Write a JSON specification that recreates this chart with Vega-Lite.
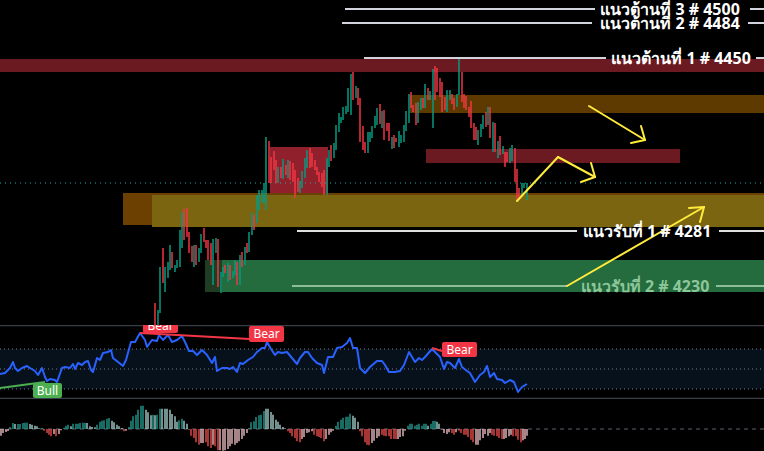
{
"$schema":"https://vega.github.io/schema/vega-lite/v6.json",
"background":"#000000",
"padding":0,
"spacing":0,
"config":{"view":{"stroke":null},"axis":{"disable":true},"legend":{"disable":true},"concat":{"spacing":0},"mark":{"clip":true}},
"vconcat":[
{
"width":764,"height":325,
"resolve":{"scale":{"color":"independent"}},
"encoding":{"x":{"field":"x","type":"quantitative","scale":{"domain":[0,764]},"axis":null},"y":{"field":"y","type":"quantitative","scale":{"domain":[4183,4508]},"axis":null}},
"layer":[
{"data":{"values":[
{"zone":"res1","x":0,"x2":764,"y":4449,"y2":4436},
{"zone":"orangeL","x":123,"x2":764,"y":4315,"y2":4283},
{"zone":"olive","x":152,"x2":764,"y":4313,"y2":4281},
{"zone":"greenDark","x":205,"x2":764,"y":4248,"y2":4216},
{"zone":"green","x":222,"x2":764,"y":4248,"y2":4216},
{"zone":"redBox","x":270,"x2":328,"y":4361,"y2":4315},
{"zone":"brownR","x":410,"x2":764,"y":4413,"y2":4395},
{"zone":"redMid","x":426,"x2":680,"y":4359,"y2":4345}]},
"mark":{"type":"rect","clip":true},
"encoding":{"x2":{"field":"x2"},"y2":{"field":"y2"},"color":{"field":"zone","type":"nominal","legend":null,"scale":{"domain":["res1","orangeL","olive","greenDark","green","redBox","brownR","redMid"],"range":["#6b1a22","#6b4000","#7c6511","#1f3d22","#246b3d","#91202d","#5e3a00","#6b1a22"]}}}},
{"data":{"values":[{"x":0,"x2":764,"y":4325}]},
"mark":{"type":"rule","color":"#26a69a","strokeDash":[1,4],"strokeWidth":1,"clip":true},
"encoding":{"x2":{"field":"x2"}}},
{"data":{"values":[
{"x":155,"y":4205,"y2":4183,"d":"dn"},{"x":158,"y":4198,"y2":4183,"d":"up"},{"x":160,"y":4241,"y2":4195,"d":"up"},{"x":163,"y":4260,"y2":4225,"d":"dn"},{"x":165,"y":4241,"y2":4216,"d":"up"},{"x":168,"y":4246,"y2":4230,"d":"up"},{"x":170,"y":4263,"y2":4238,"d":"up"},{"x":172,"y":4256,"y2":4240,"d":"dn"},{"x":175,"y":4243,"y2":4236,"d":"up"},{"x":177,"y":4248,"y2":4240,"d":"up"},{"x":180,"y":4278,"y2":4241,"d":"up"},{"x":182,"y":4296,"y2":4260,"d":"up"},{"x":184,"y":4299,"y2":4268,"d":"dn"},{"x":187,"y":4300,"y2":4271,"d":"dn"},{"x":189,"y":4276,"y2":4255,"d":"dn"},{"x":192,"y":4262,"y2":4246,"d":"dn"},{"x":194,"y":4263,"y2":4241,"d":"up"},{"x":196,"y":4263,"y2":4243,"d":"dn"},{"x":199,"y":4260,"y2":4246,"d":"up"},{"x":201,"y":4274,"y2":4255,"d":"up"},{"x":204,"y":4280,"y2":4266,"d":"dn"},{"x":206,"y":4268,"y2":4260,"d":"dn"},{"x":208,"y":4268,"y2":4248,"d":"dn"},{"x":211,"y":4265,"y2":4243,"d":"dn"},{"x":213,"y":4269,"y2":4223,"d":"up"},{"x":216,"y":4270,"y2":4255,"d":"up"},{"x":218,"y":4269,"y2":4221,"d":"dn"},{"x":221,"y":4236,"y2":4215,"d":"up"},{"x":223,"y":4241,"y2":4231,"d":"up"},{"x":225,"y":4243,"y2":4235,"d":"dn"},{"x":228,"y":4245,"y2":4226,"d":"up"},{"x":230,"y":4243,"y2":4228,"d":"dn"},{"x":233,"y":4237,"y2":4230,"d":"up"},{"x":235,"y":4248,"y2":4233,"d":"up"},{"x":237,"y":4246,"y2":4223,"d":"dn"},{"x":240,"y":4253,"y2":4223,"d":"up"},{"x":242,"y":4256,"y2":4241,"d":"dn"},{"x":245,"y":4261,"y2":4243,"d":"up"},{"x":247,"y":4265,"y2":4255,"d":"dn"},{"x":249,"y":4276,"y2":4256,"d":"up"},{"x":252,"y":4295,"y2":4273,"d":"up"},{"x":254,"y":4293,"y2":4278,"d":"dn"},{"x":257,"y":4313,"y2":4285,"d":"up"},{"x":259,"y":4318,"y2":4298,"d":"up"},{"x":262,"y":4318,"y2":4305,"d":"up"},{"x":264,"y":4325,"y2":4305,"d":"up"},{"x":266,"y":4371,"y2":4298,"d":"up"},{"x":269,"y":4367,"y2":4325,"d":"dn"},{"x":271,"y":4351,"y2":4325,"d":"dn"},{"x":274,"y":4357,"y2":4338,"d":"dn"},{"x":276,"y":4348,"y2":4325,"d":"dn"},{"x":278,"y":4341,"y2":4325,"d":"up"},{"x":281,"y":4341,"y2":4330,"d":"dn"},{"x":283,"y":4349,"y2":4329,"d":"up"},{"x":286,"y":4343,"y2":4333,"d":"dn"},{"x":288,"y":4348,"y2":4330,"d":"up"},{"x":290,"y":4347,"y2":4328,"d":"dn"},{"x":293,"y":4345,"y2":4326,"d":"dn"},{"x":295,"y":4338,"y2":4310,"d":"dn"},{"x":298,"y":4330,"y2":4316,"d":"dn"},{"x":300,"y":4327,"y2":4315,"d":"up"},{"x":302,"y":4337,"y2":4320,"d":"up"},{"x":305,"y":4350,"y2":4330,"d":"up"},{"x":307,"y":4358,"y2":4340,"d":"up"},{"x":310,"y":4360,"y2":4340,"d":"dn"},{"x":312,"y":4355,"y2":4341,"d":"dn"},{"x":315,"y":4348,"y2":4338,"d":"dn"},{"x":317,"y":4341,"y2":4333,"d":"dn"},{"x":319,"y":4336,"y2":4326,"d":"dn"},{"x":322,"y":4335,"y2":4321,"d":"dn"},{"x":324,"y":4338,"y2":4313,"d":"dn"},{"x":327,"y":4350,"y2":4313,"d":"up"},{"x":329,"y":4358,"y2":4341,"d":"up"},{"x":331,"y":4363,"y2":4347,"d":"dn"},{"x":334,"y":4365,"y2":4350,"d":"up"},{"x":336,"y":4383,"y2":4358,"d":"up"},{"x":339,"y":4395,"y2":4376,"d":"up"},{"x":341,"y":4391,"y2":4385,"d":"up"},{"x":343,"y":4401,"y2":4388,"d":"up"},{"x":346,"y":4402,"y2":4394,"d":"up"},{"x":348,"y":4420,"y2":4396,"d":"up"},{"x":351,"y":4434,"y2":4393,"d":"up"},{"x":353,"y":4436,"y2":4408,"d":"dn"},{"x":356,"y":4422,"y2":4410,"d":"up"},{"x":358,"y":4420,"y2":4403,"d":"dn"},{"x":360,"y":4410,"y2":4366,"d":"dn"},{"x":363,"y":4382,"y2":4358,"d":"dn"},{"x":365,"y":4366,"y2":4355,"d":"dn"},{"x":368,"y":4376,"y2":4355,"d":"up"},{"x":370,"y":4376,"y2":4366,"d":"up"},{"x":372,"y":4382,"y2":4370,"d":"up"},{"x":375,"y":4392,"y2":4380,"d":"up"},{"x":377,"y":4400,"y2":4383,"d":"up"},{"x":380,"y":4404,"y2":4384,"d":"dn"},{"x":382,"y":4397,"y2":4380,"d":"up"},{"x":384,"y":4398,"y2":4368,"d":"dn"},{"x":387,"y":4385,"y2":4377,"d":"dn"},{"x":389,"y":4385,"y2":4367,"d":"dn"},{"x":392,"y":4371,"y2":4359,"d":"up"},{"x":394,"y":4373,"y2":4360,"d":"dn"},{"x":396,"y":4370,"y2":4366,"d":"dn"},{"x":399,"y":4377,"y2":4361,"d":"up"},{"x":401,"y":4373,"y2":4365,"d":"up"},{"x":404,"y":4383,"y2":4366,"d":"up"},{"x":406,"y":4397,"y2":4377,"d":"up"},{"x":409,"y":4414,"y2":4385,"d":"up"},{"x":411,"y":4416,"y2":4400,"d":"dn"},{"x":413,"y":4403,"y2":4396,"d":"dn"},{"x":416,"y":4405,"y2":4383,"d":"dn"},{"x":418,"y":4406,"y2":4385,"d":"up"},{"x":421,"y":4410,"y2":4398,"d":"up"},{"x":423,"y":4410,"y2":4400,"d":"dn"},{"x":425,"y":4424,"y2":4400,"d":"up"},{"x":428,"y":4420,"y2":4408,"d":"dn"},{"x":430,"y":4417,"y2":4408,"d":"up"},{"x":433,"y":4439,"y2":4380,"d":"up"},{"x":435,"y":4442,"y2":4408,"d":"dn"},{"x":437,"y":4440,"y2":4416,"d":"dn"},{"x":440,"y":4430,"y2":4411,"d":"dn"},{"x":442,"y":4426,"y2":4396,"d":"dn"},{"x":445,"y":4411,"y2":4398,"d":"dn"},{"x":447,"y":4418,"y2":4396,"d":"up"},{"x":450,"y":4418,"y2":4408,"d":"up"},{"x":452,"y":4414,"y2":4404,"d":"dn"},{"x":454,"y":4410,"y2":4398,"d":"dn"},{"x":457,"y":4414,"y2":4401,"d":"up"},{"x":459,"y":4450,"y2":4413,"d":"up"},{"x":462,"y":4436,"y2":4406,"d":"dn"},{"x":464,"y":4414,"y2":4400,"d":"dn"},{"x":466,"y":4412,"y2":4398,"d":"dn"},{"x":469,"y":4401,"y2":4391,"d":"dn"},{"x":471,"y":4407,"y2":4380,"d":"dn"},{"x":474,"y":4385,"y2":4368,"d":"dn"},{"x":476,"y":4381,"y2":4368,"d":"dn"},{"x":478,"y":4378,"y2":4363,"d":"up"},{"x":481,"y":4384,"y2":4371,"d":"up"},{"x":483,"y":4393,"y2":4379,"d":"up"},{"x":486,"y":4396,"y2":4381,"d":"dn"},{"x":488,"y":4401,"y2":4383,"d":"up"},{"x":490,"y":4401,"y2":4370,"d":"dn"},{"x":493,"y":4386,"y2":4356,"d":"up"},{"x":495,"y":4385,"y2":4356,"d":"dn"},{"x":498,"y":4367,"y2":4350,"d":"up"},{"x":500,"y":4372,"y2":4353,"d":"dn"},{"x":503,"y":4362,"y2":4354,"d":"up"},{"x":505,"y":4356,"y2":4341,"d":"dn"},{"x":507,"y":4356,"y2":4346,"d":"dn"},{"x":510,"y":4360,"y2":4345,"d":"up"},{"x":512,"y":4363,"y2":4347,"d":"up"},{"x":515,"y":4360,"y2":4326,"d":"dn"},{"x":517,"y":4339,"y2":4308,"d":"dn"},{"x":519,"y":4320,"y2":4310,"d":"dn"},{"x":522,"y":4325,"y2":4313,"d":"up"},{"x":524,"y":4325,"y2":4320,"d":"up"},{"x":527,"y":4325,"y2":4308,"d":"up"}]},
"mark":{"type":"rule","strokeWidth":1.5,"clip":true},
"encoding":{"y2":{"field":"y2"},"color":{"field":"d","type":"nominal","legend":null,"scale":{"domain":["up","dn"],"range":["#089981","#f23645"]}}}},
{"data":{"values":[
{"kind":"res","x":345,"x2":595,"y":4499},{"kind":"res","x":750,"x2":764,"y":4499},
{"kind":"res","x":342,"x2":592,"y":4485},{"kind":"res","x":748,"x2":764,"y":4485},
{"kind":"res","x":364,"x2":606,"y":4450},{"kind":"res","x":756,"x2":764,"y":4450},
{"kind":"sup1","x":297,"x2":577,"y":4277},{"kind":"sup1","x":719,"x2":764,"y":4277},
{"kind":"sup2","x":292,"x2":567,"y":4222},{"kind":"sup2","x":716,"x2":764,"y":4222}]},
"mark":{"type":"rule","strokeWidth":2,"clip":true},
"encoding":{"x2":{"field":"x2"},"color":{"field":"kind","type":"nominal","legend":null,"scale":{"domain":["res","sup1","sup2"],"range":["#d1d4dc","#e0e0e0","#8cbf98"]}}}},
{"data":{"values":[
{"x":589,"y":4402,"x2":645,"y2":4368},{"x":641,"y":4382,"x2":645,"y2":4368},{"x":631,"y":4365,"x2":645,"y2":4368},
{"x":517,"y":4307,"x2":558,"y2":4351},{"x":558,"y":4351,"x2":595,"y2":4331},{"x":591,"y":4345,"x2":595,"y2":4331},{"x":581,"y":4326,"x2":595,"y2":4331},
{"x":567,"y":4222,"x2":704,"y2":4301},{"x":689,"y":4300,"x2":704,"y2":4301},{"x":700,"y":4286,"x2":704,"y2":4301}]},
"mark":{"type":"rule","color":"#ffeb3b","strokeWidth":2,"strokeCap":"round","clip":true},
"encoding":{"x2":{"field":"x2"},"y2":{"field":"y2"}}},
{"data":{"values":[
{"label":"แนวต้านที่ 3 # 4500","x":670,"y":4498,"kind":"res"},
{"label":"แนวต้านที่ 2 # 4484","x":670,"y":4484,"kind":"res"},
{"label":"แนวต้านที่ 1 # 4450","x":681,"y":4449,"kind":"res"},
{"label":"แนวรับที่ 1 # 4281","x":647,"y":4276,"kind":"sup1"},
{"label":"แนวรับที่ 2 # 4230","x":645,"y":4221,"kind":"sup2"}]},
"mark":{"type":"text","font":"Noto Sans","fontSize":16,"fontWeight":"bold","align":"center","baseline":"middle","clip":true},
"encoding":{"text":{"field":"label"},"color":{"field":"kind","type":"nominal","legend":null,"scale":{"domain":["res","sup1","sup2"],"range":["#ffffff","#ffffff","#8cc79a"]}}}}
]
},
{
"width":764,"height":74,
"resolve":{"scale":{"color":"independent"}},
"encoding":{"x":{"field":"x","type":"quantitative","scale":{"domain":[0,764]},"axis":null},"y":{"field":"y","type":"quantitative","scale":{"domain":[20,94]},"axis":null}},
"layer":[
{"data":{"values":[{"x":0,"x2":764,"y":70,"y2":30}]},
"mark":{"type":"rect","color":"#06111c","clip":true},
"encoding":{"x2":{"field":"x2"},"y2":{"field":"y2"}}},
{"data":{"values":[{"x":0,"x2":764,"y":70},{"x":0,"x2":764,"y":50},{"x":0,"x2":764,"y":30}]},
"mark":{"type":"rule","color":"#787b86","strokeDash":[1,3],"strokeWidth":1,"clip":true},
"encoding":{"x2":{"field":"x2"}}},
{"data":{"values":[{"x":0,"x2":764,"y":93.5},{"x":0,"x2":764,"y":20.5}]},
"mark":{"type":"rule","color":"#3a3e48","strokeWidth":1.5,"clip":true},
"encoding":{"x2":{"field":"x2"}}},
{"data":{"values":[
{"x":0,"y":45},{"x":5,"y":46},{"x":10,"y":51},{"x":13,"y":57},{"x":15,"y":51},{"x":18,"y":48},{"x":22,"y":51},{"x":27,"y":53},{"x":30,"y":51},{"x":35,"y":48},{"x":38,"y":44},{"x":42,"y":51},{"x":45,"y":42},{"x":47,"y":38},{"x":50,"y":40},{"x":55,"y":39},{"x":57,"y":37},{"x":62,"y":51},{"x":65,"y":52},{"x":70,"y":51},{"x":73,"y":55},{"x":75,"y":50},{"x":78,"y":56},{"x":82,"y":54},{"x":85,"y":57},{"x":88,"y":58},{"x":91,"y":49},{"x":93,"y":47},{"x":97,"y":61},{"x":100,"y":59},{"x":103,"y":66},{"x":108,"y":67},{"x":111,"y":69},{"x":113,"y":61},{"x":118,"y":57},{"x":123,"y":53},{"x":126,"y":59},{"x":131,"y":77},{"x":135,"y":77},{"x":140,"y":86},{"x":145,"y":79},{"x":147,"y":72},{"x":152,"y":79},{"x":157,"y":78},{"x":159,"y":84},{"x":163,"y":79},{"x":168,"y":84},{"x":172,"y":77},{"x":177,"y":79},{"x":182,"y":83},{"x":185,"y":77},{"x":189,"y":68},{"x":193,"y":68},{"x":197,"y":64},{"x":202,"y":69},{"x":207,"y":64},{"x":212,"y":56},{"x":215,"y":62},{"x":217,"y":48},{"x":222,"y":51},{"x":227,"y":51},{"x":230,"y":50},{"x":233,"y":52},{"x":237,"y":47},{"x":240,"y":56},{"x":243,"y":55},{"x":248,"y":59},{"x":253,"y":62},{"x":257,"y":67},{"x":262,"y":71},{"x":265,"y":71},{"x":267,"y":77},{"x":271,"y":70},{"x":275,"y":64},{"x":278,"y":67},{"x":282,"y":66},{"x":287,"y":67},{"x":292,"y":61},{"x":297,"y":55},{"x":300,"y":61},{"x":305,"y":67},{"x":308,"y":67},{"x":312,"y":61},{"x":317,"y":56},{"x":322,"y":54},{"x":324,"y":46},{"x":328,"y":62},{"x":333,"y":62},{"x":337,"y":71},{"x":342,"y":72},{"x":347,"y":76},{"x":350,"y":81},{"x":353,"y":71},{"x":357,"y":71},{"x":360,"y":51},{"x":365,"y":46},{"x":370,"y":52},{"x":377,"y":58},{"x":382,"y":58},{"x":385,"y":54},{"x":389,"y":47},{"x":395,"y":47},{"x":400,"y":48},{"x":404,"y":54},{"x":409,"y":67},{"x":412,"y":62},{"x":415,"y":57},{"x":419,"y":61},{"x":422,"y":59},{"x":425,"y":62},{"x":432,"y":70},{"x":435,"y":67},{"x":440,"y":62},{"x":444,"y":50},{"x":447,"y":57},{"x":450,"y":56},{"x":455,"y":51},{"x":459,"y":60},{"x":462,"y":52},{"x":467,"y":48},{"x":470,"y":46},{"x":475,"y":37},{"x":480,"y":44},{"x":484,"y":47},{"x":487,"y":53},{"x":490,"y":42},{"x":494,"y":46},{"x":497,"y":40},{"x":502,"y":39},{"x":505,"y":36},{"x":510,"y":39},{"x":514,"y":37},{"x":518,"y":27},{"x":522,"y":32},{"x":527,"y":35}]},
"mark":{"type":"line","color":"#2962ff","strokeWidth":2,"strokeJoin":"round","clip":true},
"encoding":{}},
{"data":{"values":[{"kind":"bull","x":0,"y":31,"x2":45,"y2":37},{"kind":"bear","x":140,"y":86,"x2":250,"y2":80},{"kind":"bear","x":432,"y":71,"x2":442,"y2":68}]},
"mark":{"type":"rule","strokeWidth":2,"clip":true},
"encoding":{"x2":{"field":"x2"},"y2":{"field":"y2"},"color":{"field":"kind","type":"nominal","legend":null,"scale":{"domain":["bull","bear"],"range":["#4caf50","#f23645"]}}}},
{"data":{"values":[{"kind":"bull","x":33,"x2":62,"y":36,"y2":21},{"kind":"bear","x":143,"x2":178,"y":101,"y2":86},{"kind":"bear","x":249,"x2":284,"y":93,"y2":77},{"kind":"bear","x":442,"x2":477,"y":77,"y2":62}]},
"mark":{"type":"rect","cornerRadius":2,"clip":true},
"encoding":{"x2":{"field":"x2"},"y2":{"field":"y2"},"color":{"field":"kind","type":"nominal","legend":null,"scale":{"domain":["bull","bear"],"range":["#4caf50","#f23645"]}}}},
{"data":{"values":[{"label":"Bull","x":47.5,"y":28.5},{"label":"Bear","x":160.5,"y":93.5},{"label":"Bear","x":266.5,"y":85},{"label":"Bear","x":459.5,"y":69.5}]},
"mark":{"type":"text","color":"#ffffff","font":"Noto Sans","fontSize":12,"align":"center","baseline":"middle","clip":true},
"encoding":{"text":{"field":"label"}}}
]
},
{
"width":764,"height":52,
"resolve":{"scale":{"color":"independent"}},
"encoding":{"x":{"field":"x","type":"quantitative","scale":{"domain":[0,764]},"axis":null},"y":{"field":"y","type":"quantitative","scale":{"domain":[-22,30]},"axis":null}},
"layer":[
{"data":{"values":[{"x":0,"x2":764,"y":0}]},
"mark":{"type":"rule","color":"#5d606b","strokeDash":[4,4],"strokeWidth":1,"clip":true},
"encoding":{"x2":{"field":"x2"}}},
{"data":{"values":[
{"x":1,"y":-6.7,"c":"r"},{"x":3,"y":-4,"c":"r"},{"x":6,"y":-3,"c":"r"},{"x":8,"y":-2,"c":"r"},{"x":10,"y":2,"c":"G"},{"x":13,"y":6,"c":"G"},{"x":15,"y":5,"c":"g"},{"x":18,"y":5,"c":"G"},{"x":20,"y":5,"c":"G"},{"x":23,"y":6,"c":"G"},{"x":25,"y":6.3,"c":"G"},{"x":27,"y":6.3,"c":"G"},{"x":30,"y":5,"c":"g"},{"x":32,"y":4.3,"c":"g"},{"x":35,"y":3.3,"c":"g"},{"x":37,"y":2.7,"c":"g"},{"x":39,"y":0.7,"c":"g"},{"x":42,"y":1,"c":"G"},{"x":44,"y":-1.7,"c":"R"},{"x":47,"y":-4,"c":"R"},{"x":49,"y":-5.7,"c":"R"},{"x":51,"y":-7.3,"c":"R"},{"x":54,"y":-5,"c":"r"},{"x":56,"y":-7.3,"c":"R"},{"x":59,"y":-5,"c":"r"},{"x":61,"y":-1.3,"c":"r"},{"x":64,"y":1.3,"c":"G"},{"x":66,"y":3.3,"c":"G"},{"x":68,"y":4.3,"c":"G"},{"x":71,"y":2.7,"c":"g"},{"x":73,"y":5.3,"c":"G"},{"x":76,"y":5.3,"c":"G"},{"x":78,"y":5.3,"c":"G"},{"x":80,"y":6,"c":"G"},{"x":83,"y":6.3,"c":"G"},{"x":85,"y":6.3,"c":"G"},{"x":87,"y":6,"c":"g"},{"x":90,"y":2.7,"c":"g"},{"x":92,"y":2,"c":"g"},{"x":95,"y":1.7,"c":"g"},{"x":97,"y":4.3,"c":"G"},{"x":100,"y":7.3,"c":"G"},{"x":102,"y":8.3,"c":"G"},{"x":104,"y":8.7,"c":"G"},{"x":107,"y":10.3,"c":"G"},{"x":109,"y":11,"c":"G"},{"x":112,"y":8.3,"c":"g"},{"x":114,"y":6.7,"c":"g"},{"x":117,"y":4.3,"c":"g"},{"x":119,"y":2.7,"c":"g"},{"x":122,"y":1,"c":"g"},{"x":124,"y":-2.3,"c":"R"},{"x":126,"y":-1.7,"c":"r"},{"x":129,"y":2,"c":"G"},{"x":131,"y":8.3,"c":"G"},{"x":133,"y":12.7,"c":"G"},{"x":136,"y":14.3,"c":"G"},{"x":138,"y":19.3,"c":"G"},{"x":141,"y":23.3,"c":"G"},{"x":143,"y":23.3,"c":"G"},{"x":146,"y":19.3,"c":"g"},{"x":148,"y":16.7,"c":"g"},{"x":151,"y":13.7,"c":"g"},{"x":153,"y":14.3,"c":"G"},{"x":155,"y":13.7,"c":"g"},{"x":157,"y":14.3,"c":"G"},{"x":160,"y":20.3,"c":"G"},{"x":162,"y":20.3,"c":"g"},{"x":165,"y":20.3,"c":"g"},{"x":167,"y":20.3,"c":"g"},{"x":170,"y":19.3,"c":"g"},{"x":172,"y":15,"c":"g"},{"x":175,"y":12.7,"c":"g"},{"x":177,"y":7.3,"c":"g"},{"x":179,"y":8.7,"c":"G"},{"x":182,"y":10.3,"c":"G"},{"x":184,"y":8.3,"c":"g"},{"x":187,"y":5.3,"c":"g"},{"x":189,"y":-0.5,"c":"r"},{"x":191,"y":-6.7,"c":"R"},{"x":194,"y":-9,"c":"R"},{"x":196,"y":-13.3,"c":"R"},{"x":199,"y":-15.7,"c":"R"},{"x":201,"y":-14,"c":"r"},{"x":203,"y":-14,"c":"r"},{"x":206,"y":-13.3,"c":"R"},{"x":208,"y":-17.3,"c":"R"},{"x":211,"y":-19,"c":"R"},{"x":213,"y":-15.7,"c":"r"},{"x":215,"y":-17.3,"c":"R"},{"x":218,"y":-21.3,"c":"R"},{"x":220,"y":-21.3,"c":"r"},{"x":223,"y":-21.7,"c":"r"},{"x":225,"y":-21.3,"c":"r"},{"x":228,"y":-20,"c":"r"},{"x":230,"y":-17.3,"c":"r"},{"x":232,"y":-14.7,"c":"r"},{"x":235,"y":-15.7,"c":"r"},{"x":237,"y":-14,"c":"r"},{"x":239,"y":-12.3,"c":"r"},{"x":242,"y":-10,"c":"r"},{"x":244,"y":-6.7,"c":"r"},{"x":247,"y":-4,"c":"r"},{"x":249,"y":0.7,"c":"G"},{"x":251,"y":6.7,"c":"G"},{"x":254,"y":7.7,"c":"G"},{"x":256,"y":12,"c":"G"},{"x":259,"y":13.7,"c":"G"},{"x":261,"y":14.3,"c":"G"},{"x":264,"y":18,"c":"G"},{"x":266,"y":20.3,"c":"g"},{"x":268,"y":20.3,"c":"g"},{"x":271,"y":17,"c":"g"},{"x":273,"y":14.3,"c":"g"},{"x":276,"y":9.3,"c":"g"},{"x":278,"y":7.3,"c":"g"},{"x":280,"y":4.3,"c":"g"},{"x":283,"y":2,"c":"g"},{"x":285,"y":0.7,"c":"g"},{"x":288,"y":-2.3,"c":"R"},{"x":290,"y":-4,"c":"R"},{"x":292,"y":-7.3,"c":"R"},{"x":295,"y":-9,"c":"R"},{"x":297,"y":-12.3,"c":"R"},{"x":300,"y":-13.3,"c":"R"},{"x":302,"y":-10,"c":"r"},{"x":304,"y":-8,"c":"r"},{"x":307,"y":-4,"c":"r"},{"x":309,"y":-3.3,"c":"r"},{"x":312,"y":-2.3,"c":"r"},{"x":314,"y":-5.7,"c":"R"},{"x":317,"y":-7.3,"c":"R"},{"x":319,"y":-8,"c":"R"},{"x":321,"y":-9,"c":"R"},{"x":324,"y":-12.3,"c":"R"},{"x":326,"y":-10,"c":"r"},{"x":329,"y":-5.7,"c":"r"},{"x":331,"y":-3.3,"c":"r"},{"x":333,"y":-1.7,"c":"r"},{"x":336,"y":3.3,"c":"G"},{"x":338,"y":7.3,"c":"G"},{"x":341,"y":9.3,"c":"G"},{"x":343,"y":11.3,"c":"G"},{"x":346,"y":12.3,"c":"G"},{"x":348,"y":12.3,"c":"G"},{"x":350,"y":15.3,"c":"G"},{"x":353,"y":13.3,"c":"g"},{"x":355,"y":11.3,"c":"g"},{"x":358,"y":7.3,"c":"g"},{"x":360,"y":-2.3,"c":"R"},{"x":362,"y":-7.3,"c":"R"},{"x":365,"y":-13.3,"c":"R"},{"x":367,"y":-15.7,"c":"R"},{"x":369,"y":-16.3,"c":"R"},{"x":372,"y":-14,"c":"r"},{"x":374,"y":-11.7,"c":"r"},{"x":377,"y":-9,"c":"r"},{"x":379,"y":-7.3,"c":"r"},{"x":382,"y":-5.7,"c":"R"},{"x":384,"y":-6.7,"c":"R"},{"x":386,"y":-7.3,"c":"R"},{"x":389,"y":-7.3,"c":"R"},{"x":391,"y":-10,"c":"R"},{"x":394,"y":-10,"c":"R"},{"x":396,"y":-10,"c":"R"},{"x":398,"y":-10,"c":"r"},{"x":400,"y":-8,"c":"r"},{"x":403,"y":-7.3,"c":"r"},{"x":405,"y":-1.7,"c":"r"},{"x":408,"y":3.3,"c":"G"},{"x":410,"y":5.3,"c":"G"},{"x":412,"y":5.3,"c":"G"},{"x":415,"y":3.3,"c":"G"},{"x":417,"y":4.3,"c":"G"},{"x":419,"y":5.3,"c":"G"},{"x":422,"y":3.3,"c":"G"},{"x":424,"y":5.3,"c":"G"},{"x":426,"y":5.3,"c":"G"},{"x":428,"y":3.3,"c":"g"},{"x":431,"y":5.3,"c":"G"},{"x":433,"y":8,"c":"G"},{"x":435,"y":8.3,"c":"G"},{"x":437,"y":7.3,"c":"g"},{"x":439,"y":5.3,"c":"g"},{"x":442,"y":-0.5,"c":"r"},{"x":444,"y":-4,"c":"r"},{"x":447,"y":-5,"c":"r"},{"x":449,"y":-3.3,"c":"r"},{"x":452,"y":-4,"c":"R"},{"x":454,"y":-5.7,"c":"R"},{"x":456,"y":-3.3,"c":"r"},{"x":459,"y":-1.7,"c":"R"},{"x":461,"y":-4,"c":"R"},{"x":464,"y":-5.7,"c":"R"},{"x":466,"y":-5.7,"c":"R"},{"x":468,"y":-8,"c":"R"},{"x":471,"y":-10.7,"c":"R"},{"x":473,"y":-13.3,"c":"R"},{"x":476,"y":-15.7,"c":"r"},{"x":478,"y":-15.7,"c":"r"},{"x":480,"y":-11.3,"c":"r"},{"x":483,"y":-9,"c":"r"},{"x":485,"y":-5,"c":"r"},{"x":488,"y":-6.7,"c":"r"},{"x":490,"y":-4,"c":"r"},{"x":492,"y":-5.7,"c":"R"},{"x":494,"y":-6.7,"c":"R"},{"x":497,"y":-7.3,"c":"R"},{"x":499,"y":-9,"c":"R"},{"x":502,"y":-10,"c":"R"},{"x":504,"y":-10,"c":"r"},{"x":506,"y":-9,"c":"r"},{"x":509,"y":-7.3,"c":"r"},{"x":511,"y":-5.7,"c":"r"},{"x":513,"y":-7.3,"c":"R"},{"x":516,"y":-7.3,"c":"R"},{"x":518,"y":-10.7,"c":"R"},{"x":521,"y":-13.3,"c":"R"},{"x":523,"y":-11.3,"c":"r"},{"x":525,"y":-10,"c":"r"},{"x":527,"y":-6.7,"c":"r"}]},
"mark":{"type":"rule","strokeWidth":1.3,"clip":true},
"encoding":{"y2":{"datum":0},"color":{"field":"c","type":"nominal","legend":null,"scale":{"domain":["G","g","R","r"],"range":["#26a69a","#b2dfdb","#ff5252","#ffcdd2"]}}}}
]
}
]
}
